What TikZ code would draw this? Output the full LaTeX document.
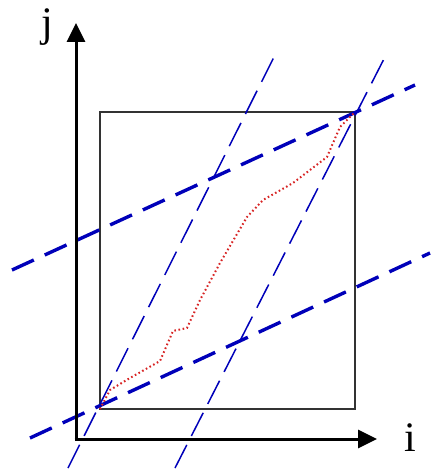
\documentclass[tikz,border=0pt]{standalone}
\usepackage{fontspec}
\setmainfont{Liberation Serif}
\usetikzlibrary{arrows.meta}
\definecolor{lineblue}{RGB}{0,0,185}
\definecolor{pathred}{RGB}{215,35,35}
\tikzset{
  axis/.style={line width=3pt,-{Triangle[length=19pt,width=18pt]}},
  frame/.style={line width=1.3pt,draw=black!80},
  steepline/.style={line width=1.5pt,draw=lineblue,dash pattern=on 26pt off 10pt},
  flatline/.style={line width=3.4pt,draw=lineblue,dash pattern=on 24pt off 12pt},
  warppath/.style={line width=2pt,draw=pathred,dash pattern=on 1.6pt off 2.6pt},
  axlabel/.style={font=\fontsize{42}{42}\selectfont,inner sep=0pt}
}
\begin{document}
\begin{tikzpicture}[x=1pt,y=-1pt]
\useasboundingbox (0,0) rectangle (432,473);
\coordinate (O) at (76,439);
\coordinate (jtip) at (76,23);
\coordinate (itip) at (377,439);
\coordinate (bl) at (100,409);
\coordinate (tr) at (355,112);
% frame
\draw[frame] (bl) rectangle (tr);
% steep lines
\coordinate (s1a) at (68,468); \coordinate (s1b) at (276,53);
\coordinate (s2a) at (175,468); \coordinate (s2b) at (387,53);
\draw[steepline] (s1a) -- (s1b);
\draw[steepline] (s2a) -- (s2b);
% flat lines
\coordinate (f1a) at (12,270); \coordinate (f1b) at (415,85);
\coordinate (f2a) at (30,438); \coordinate (f2b) at (430,253);
\draw[flatline] (f1a) -- (f1b);
\draw[flatline] (f2a) -- (f2b);
% warping path
\draw[warppath] (bl) -- (110,390) -- (130,378) -- (160,361) -- (173,331) -- (187,328)
  -- (200,300) -- (220,263) -- (247,217) -- (263,200) -- (293,183) -- (327,157)
  -- (333,143) -- (340,127) -- (tr);
% axes
\draw[axis] (76,440.5) -- (jtip);
\draw[axis] (74.5,439) -- (itip);
\node[axlabel] (jl) at (47,27) {j};
\node[axlabel] (il) at (410,438) {i};
\end{tikzpicture}
\end{document}
